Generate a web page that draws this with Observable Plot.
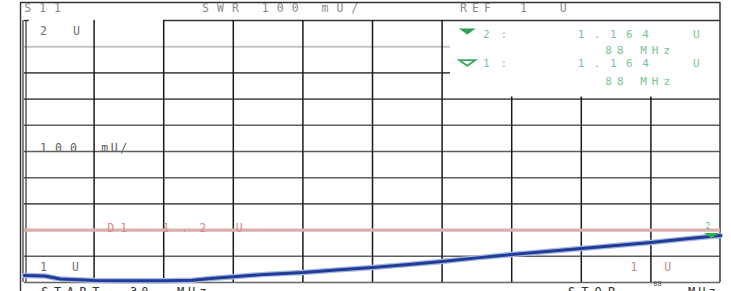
<!DOCTYPE html>
<html>
<head>
<meta charset="utf-8">
<script src="https://cdn.jsdelivr.net/npm/d3@7"></script>
<script src="https://cdn.jsdelivr.net/npm/@observablehq/plot@0.6"></script>
<style>
  html, body { margin: 0; padding: 0; background: #fff; }
  #chart svg { display: block; background: #fff; }
</style>
</head>
<body>
<div id="chart"></div>
<script>
// ---- Data ----
// Frequency sweep 30 MHz .. 88 MHz, SWR trace (units U)
const freqs = [30, 31.7, 33, 35.9, 38, 41.8, 44, 45.5, 47.4, 50, 53.2, 56, 59, 62, 64.8, 67.7, 70.6, 73.5, 76.4, 79.3, 82.2, 85, 88];
const swr   = [1.027, 1.025, 1.013, 1.008, 1.007, 1.007, 1.009, 1.015, 1.022, 1.031, 1.038, 1.048, 1.057, 1.069, 1.080, 1.094, 1.107, 1.118, 1.130, 1.141, 1.153, 1.166, 1.179];

// Axis settings
const startMHz = 30, stopMHz = 88;
const refU = 1, topU = 2, divU = 0.1;
const limitU = [1.2];            // D1 limit line

// Marker (on trace end)
const markerFreq = [88];
const markerSwr = [1.179];

// Text annotations (positions in MHz / U)
const labelText  = ["S11", "SWR 100 mU/", "REF", "1", "U",
                    "2 U", "100", "mU/", "1 U",
                    "D1", "1.2", "U", "1 U",
                    "2:", "1.164", "U", "88 MHz",
                    "1:", "1.164", "U", "88 MHz",
                    "2",
                    "START", "30", "MHz", "STOP", "88", "MHz"];
const labelX     = [29.98, 44.8, 66.3, 71.3, 74.6,
                    31.3, 31.3, 36.4, 31.3,
                    36.9, 41.5, 47.6, 80.5,
                    68.2, 76.1, 85.7, 78.4,
                    68.2, 76.1, 85.7, 78.4,
                    86.75,
                    31.4, 38.8, 42.7, 75.3, 82.4, 85.3];
const labelY     = [2.031, 2.031, 2.031, 2.031, 2.031,
                    1.943, 1.500, 1.500, 1.042,
                    1.191, 1.191, 1.191, 1.042,
                    1.935, 1.935, 1.935, 1.874,
                    1.821, 1.821, 1.821, 1.752,
                    1.206,
                    0.950, 0.950, 0.950, 0.950, 0.985, 0.950];
const labelColor = ["#8a8a8a", "#8a8a8a", "#8a8a8a", "#8a8a8a", "#8a8a8a",
                    "#707070", "#606060", "#606060", "#707070",
                    "#d98a8a", "#d98a8a", "#d98a8a", "#c98a8a",
                    "#7cc493", "#7cc493", "#7cc493", "#7cc493",
                    "#7cc493", "#7cc493", "#7cc493", "#7cc493",
                    "#5cb878",
                    "#333333", "#333333", "#333333", "#333333", "#555555", "#333333"];
const labelSize  = [11.5, 11.5, 11.5, 11.5, 11.5,
                    11.5, 11.5, 11.5, 11.5,
                    11.5, 11.5, 11.5, 11.5,
                    11, 11, 11, 11,
                    11, 11, 11, 11,
                    8,
                    12, 12, 12, 12, 7, 12];
const labelSpacing = [8, 8, 5, 0, 0,
                      9.5, 8, 2.5, 9,
                      6, 11.5, 0, 10,
                      11, 9.5, 0, 5,
                      11, 9.5, 0, 5,
                      0,
                      5.5, 4, 4, 6, 0, 3];

const labels = labelText.map((t, i) => ({
  text: t, x: labelX[i], y: labelY[i], color: labelColor[i]
}));
const trace = freqs.map((f, i) => ({f, v: swr[i]}));
const markers = markerFreq.map((f, i) => ({f, v: markerSwr[i]}));
const readoutSymbols = [
  {f: 66.9, v: 1.958, filled: true},
  {f: 66.9, v: 1.838, filled: false}
];

// Grid positions derived from the instrument's divisions
const vTicks = d3.range(1, 10).map(i => startMHz + i * (stopMHz - startMHz) / 10);
const vFull = vTicks.filter(f => f < 66);
const vShort = vTicks.filter(f => f > 66);
const hTicks = d3.range(1, 10).map(i => +(refU + i * divU).toFixed(2));
const hFull = hTicks.filter(v => v <= 1.7 && v !== 1.2);

// flat, wide down-pointing triangle symbol
const flatDown = {
  draw(context, size) {
    const r = Math.sqrt(size / Math.PI);
    const h = r * 0.72;
    context.moveTo(-r, -h / 2);
    context.lineTo(r, -h / 2);
    context.lineTo(0, h / 2);
    context.closePath();
  }
};

const frameTop = 2.0687, frameBottom = 0.965, frameLeft = 29.667;

const chart = Plot.plot({
  width: 731,
  height: 291,
  marginLeft: 24,
  marginRight: 11,
  marginTop: 20,
  marginBottom: 9,
  x: {domain: [startMHz, stopMHz], axis: null},
  y: {domain: [refU, topU], axis: null},
  color: {type: "identity"},
  style: {background: "#fff"},
  marks: [
    // horizontal grid lines
    Plot.ruleY(hFull, {x1: startMHz, x2: stopMHz, stroke: "#5e5e5e", strokeWidth: 1.6}),
    Plot.ruleY([1.8], {x1: startMHz, x2: 65.5, stroke: "#555", strokeWidth: 1.6}),
    Plot.ruleY([1.9], {x1: startMHz, x2: 65.5, stroke: "#c4c4c4", strokeWidth: 2}),
    Plot.ruleY([topU], {x1: 41.6, x2: stopMHz, stroke: "#333", strokeWidth: 1.4}),
    Plot.ruleY([topU], {x1: startMHz, x2: 30.4, stroke: "#333", strokeWidth: 1.4}),
    Plot.ruleY([refU], {x1: startMHz, x2: stopMHz, stroke: "#666", strokeWidth: 1.6}),
    // vertical grid lines
    Plot.ruleX(vFull, {y1: refU, y2: topU, stroke: "#1a1a1a", strokeWidth: 1.5}),
    Plot.ruleX(vShort, {y1: refU, y2: 1.708, stroke: "#1a1a1a", strokeWidth: 1.5}),
    // inner grid border (double line at left)
    Plot.ruleX([startMHz], {y1: refU, y2: topU, stroke: "#333", strokeWidth: 1.2, dx: -1.5}),
    Plot.ruleX([startMHz], {y1: refU, y2: topU, stroke: "#333", strokeWidth: 1.2, dx: 1.5}),
    Plot.ruleX([stopMHz], {y1: refU, y2: frameTop, stroke: "#444", strokeWidth: 1.6, dx: -0.5}),
    // outer frame
    Plot.ruleX([frameLeft], {y1: frameBottom, y2: frameTop, stroke: "#333", strokeWidth: 1.4}),
    Plot.ruleY([frameTop], {x1: frameLeft, x2: stopMHz, stroke: "#333", strokeWidth: 1.4}),
    // D1 limit line
    Plot.ruleY(limitU, {x1: startMHz, x2: stopMHz, stroke: "#dcaeae", strokeWidth: 3.4}),
    // SWR trace
    Plot.line(trace, {x: "f", y: "v", stroke: "#aab8e0", strokeWidth: 5.5, curve: "linear"}),
    Plot.line(trace, {x: "f", y: "v", stroke: "#1f3c96", strokeWidth: 3, curve: "linear"}),
    // marker on trace
    Plot.dot(markers, {x: "f", y: "v", dx: -9, r: 7.5, symbol: flatDown, fill: "#2fae55", stroke: "none"}),
    // readout marker symbols
    Plot.dot(readoutSymbols.filter(d => d.filled), {x: "f", y: "v", r: 8.5, symbol: flatDown, fill: "#2e9e52", stroke: "none"}),
    Plot.dot(readoutSymbols.filter(d => !d.filled), {x: "f", y: "v", r: 8, symbol: flatDown, fill: "#fff", stroke: "#3aab5e", strokeWidth: 1.8}),
    // all texts
    Plot.text(labels, {
      x: "x", y: "y", text: "text", fill: "color",
      textAnchor: "start", lineAnchor: "bottom",
      fontFamily: "DejaVu Sans Mono", fontSize: 11.5
    })
  ]
});

// per-label font size and letter spacing
const texts = chart.querySelectorAll("text");
texts.forEach((el, i) => {
  if (i < labelText.length) {
    el.style.fontSize = labelSize[i] + "px";
    el.style.letterSpacing = labelSpacing[i] + "px";
  }
});

document.getElementById("chart").appendChild(chart);
</script>
</body>
</html>
